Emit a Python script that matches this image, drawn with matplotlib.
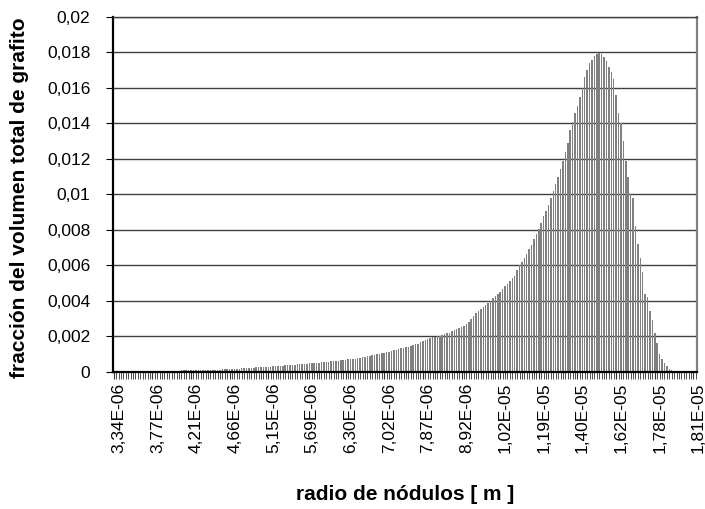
import matplotlib
matplotlib.use("Agg")
import matplotlib.pyplot as plt
from matplotlib.transforms import ScaledTranslation

plt.rcParams["font.family"] = ["Liberation Sans", "DejaVu Sans"]

# Volume fraction of graphite per nodule-radius class (one value per class)
fraccion = [
    0.00001, 0.00001, 0.00001, 0.00001, 0.00001, 0.00001, 0.00001, 0.00002, 0.00002, 0.00002,
    0.00002, 0.00002, 0.00002, 0.00002, 0.00002, 0.00003, 0.00003, 0.00003, 0.00003, 0.00003,
    0.00003, 0.00003, 0.00004, 0.00004, 0.00004, 0.00004, 0.00005, 0.00005, 0.00006, 0.00006,
    0.00007, 0.00007, 0.00008, 0.00008, 0.00008, 0.00009, 0.00009, 0.00009, 0.00010, 0.00010,
    0.00010, 0.00010, 0.00011, 0.00011, 0.00011, 0.00012, 0.00012, 0.00013, 0.00014, 0.00015,
    0.00016, 0.00017, 0.00017, 0.00018, 0.00019, 0.00020, 0.00020, 0.00021, 0.00022, 0.00023,
    0.00024, 0.00025, 0.00025, 0.00026, 0.00027, 0.00028, 0.00029, 0.00030, 0.00031, 0.00032,
    0.00033, 0.00034, 0.00035, 0.00036, 0.00037, 0.00038, 0.00040, 0.00041, 0.00042, 0.00043,
    0.00044, 0.00046, 0.00047, 0.00048, 0.00049, 0.00050, 0.00051, 0.00052, 0.00053, 0.00055,
    0.00057, 0.00058, 0.00060, 0.00061, 0.00063, 0.00064, 0.00066, 0.00068, 0.00069, 0.00071,
    0.00073, 0.00075, 0.00077, 0.00080, 0.00084, 0.00087, 0.00090, 0.00093, 0.00096, 0.00099,
    0.00101, 0.00103, 0.00106, 0.00109, 0.00112, 0.00115, 0.00119, 0.00123, 0.00127, 0.00130,
    0.00134, 0.00137, 0.00141, 0.00145, 0.00149, 0.00153, 0.00158, 0.00164, 0.00170, 0.00176,
    0.00182, 0.00188, 0.00193, 0.00196, 0.00199, 0.00202, 0.00206, 0.00210, 0.00215, 0.00220,
    0.00226, 0.00232, 0.00238, 0.00245, 0.00252, 0.00259, 0.00268, 0.00280, 0.00295, 0.00315,
    0.00330, 0.00340, 0.00355, 0.00365, 0.00375, 0.00385, 0.00400, 0.00415, 0.00425, 0.00440,
    0.00450, 0.00465, 0.00480, 0.00495, 0.00510, 0.00525, 0.00540, 0.00570, 0.00600, 0.00620,
    0.00640, 0.00665, 0.00690, 0.00715, 0.00745, 0.00775, 0.00805, 0.00840, 0.00875, 0.00905,
    0.00940, 0.00980, 0.01020, 0.01060, 0.01100, 0.01145, 0.01190, 0.01240, 0.01290, 0.01360,
    0.01410, 0.01460, 0.01500, 0.01550, 0.01600, 0.01660, 0.01700, 0.01740, 0.01760, 0.01780,
    0.01790, 0.01795, 0.01790, 0.01775, 0.01750, 0.01720, 0.01690, 0.01650, 0.01560, 0.01460,
    0.01400, 0.01300, 0.01190, 0.01100, 0.01000, 0.00980, 0.00820, 0.00720, 0.00640, 0.00560,
    0.00440, 0.00420, 0.00340, 0.00290, 0.00220, 0.00160, 0.00100, 0.00070, 0.00050, 0.00030,
    0.00017, 0.00008, 0.00004, 0.00002, 0.0, 0.0, 0.0, 0.0, 0.0, 0.0,
    0.0, 0.0,
]

# Radius labels shown every 16th class
radio_labels = [
    "3,34E-06", "3,77E-06", "4,21E-06", "4,66E-06", "5,15E-06", "5,69E-06",
    "6,30E-06", "7,02E-06", "7,87E-06", "8,92E-06", "1,02E-05", "1,19E-05",
    "1,40E-05", "1,62E-05", "1,78E-05", "1,81E-05",
]
label_step = 16

y_ticks = [0, 0.002, 0.004, 0.006, 0.008, 0.01, 0.012, 0.014, 0.016, 0.018, 0.02]
y_tick_labels = ["0", "0,002", "0,004", "0,006", "0,008", "0,01", "0,012",
                 "0,014", "0,016", "0,018", "0,02"]

fig = plt.figure(figsize=(7.05, 5.09), dpi=100)
ax = fig.add_axes([0.1596, 0.2701, 0.8291, 0.6965])

n = len(fraccion)
idx = list(range(n))
ax.bar(idx, fraccion, width=0.62, color="#808080", linewidth=0, zorder=2)

ax.set_xlim(-0.5, n - 0.5)
ax.set_ylim(0, 0.02)

ax.set_yticks(y_ticks)
ax.set_yticklabels(y_tick_labels)
ax.yaxis.grid(True, color="#404040", linewidth=1.0, zorder=1)
ax.set_axisbelow(True)

# Label ticks every 16 classes, plus a minor tick under every class
major_pos = [i * label_step for i in range(len(radio_labels))]
ax.set_xticks(major_pos)
ax.set_xticklabels(radio_labels, rotation=90)
ax.set_xticks(idx, minor=True)
ax.tick_params(axis="x", which="both", length=5, width=0.8, color="#303030",
               labelsize=12.5, pad=3)
ax.tick_params(axis="x", which="minor", length=5, width=0.6)
ax.tick_params(axis="y", length=5, width=0.8, labelsize=12.5, pad=11)

offset = ScaledTranslation(0.05, 0, fig.dpi_scale_trans)
for lbl in ax.get_xticklabels():
    lbl.set_transform(lbl.get_transform() + offset)

for side in ("left", "bottom"):
    ax.spines[side].set_color("black")
    ax.spines[side].set_linewidth(1.6)
ax.spines["right"].set_color("#808080")
ax.spines["right"].set_linewidth(1.6)
ax.spines["top"].set_color("#404040")
ax.spines["top"].set_linewidth(1.0)

ax.set_xlabel("radio de nódulos [ m ]", fontsize=15, fontweight="bold")
ax.set_ylabel("fracción del volumen total de grafito", fontsize=15, fontweight="bold")
ax.xaxis.set_label_coords(0.5, -0.32)
ax.yaxis.set_label_coords(-0.143, 0.49)

fig.savefig("out.png", dpi=100, facecolor="white")
